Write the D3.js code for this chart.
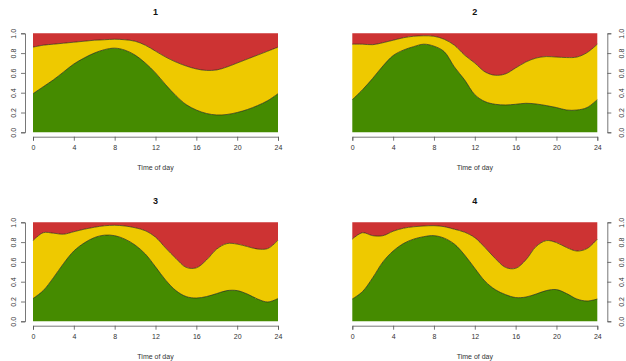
<!DOCTYPE html>
<html>
<head>
<meta charset="utf-8">
<script src="https://cdn.jsdelivr.net/npm/d3@7"></script>
<style>
  body { margin: 0; background: #fff; }
  svg { display: block; font-family: "Liberation Sans", Arial, sans-serif; }
</style>
</head>
<body>
<div id="chart"></div>
<script>
// hours of the day, one value per hour
const hours = d3.range(0, 25);
const xTicks = [0, 4, 8, 12, 16, 20, 24];
const yTicks = [0, 0.2, 0.4, 0.6, 0.8, 1.0];
const titles = ["1", "2", "3", "4"];

// top of the green band (= green share)
const green1 = [0.39,0.46,0.53,0.61,0.69,0.75,0.80,0.835,0.85,0.83,0.78,0.70,0.60,0.48,0.37,0.28,0.225,0.19,0.175,0.18,0.20,0.23,0.27,0.32,0.39];
const green2 = [0.33,0.43,0.545,0.67,0.775,0.83,0.865,0.89,0.87,0.815,0.66,0.53,0.38,0.31,0.283,0.276,0.283,0.293,0.286,0.27,0.25,0.225,0.225,0.25,0.33];
const green3 = [0.23,0.31,0.44,0.585,0.71,0.79,0.845,0.87,0.865,0.83,0.77,0.68,0.55,0.415,0.31,0.25,0.235,0.25,0.28,0.31,0.31,0.275,0.225,0.195,0.23];
const green4 = [0.225,0.30,0.44,0.60,0.71,0.785,0.83,0.855,0.865,0.84,0.78,0.67,0.535,0.405,0.32,0.27,0.24,0.245,0.275,0.31,0.32,0.28,0.225,0.205,0.225];

// top of the yellow band (= green + yellow share), red fills the rest
const yellowTop1 = [0.86,0.88,0.89,0.90,0.91,0.92,0.93,0.935,0.94,0.935,0.92,0.88,0.82,0.76,0.71,0.67,0.64,0.625,0.63,0.66,0.70,0.74,0.78,0.82,0.86];
const yellowTop2 = [0.89,0.89,0.885,0.905,0.93,0.955,0.97,0.975,0.97,0.94,0.88,0.78,0.70,0.61,0.576,0.59,0.65,0.71,0.75,0.765,0.76,0.755,0.76,0.805,0.89];
const yellowTop3 = [0.815,0.895,0.89,0.88,0.905,0.93,0.95,0.965,0.97,0.963,0.945,0.915,0.85,0.74,0.635,0.545,0.54,0.62,0.73,0.785,0.78,0.755,0.73,0.735,0.82];
const yellowTop4 = [0.83,0.895,0.865,0.865,0.91,0.94,0.955,0.963,0.966,0.956,0.93,0.90,0.845,0.745,0.635,0.545,0.535,0.62,0.755,0.815,0.795,0.745,0.71,0.735,0.83];

const greens = [green1, green2, green3, green4];
const yellowTops = [yellowTop1, yellowTop2, yellowTop3, yellowTop4];

const colors = { green: "#458B00", yellow: "#EEC900", red: "#CD3333" };

const svgWidth = 626, svgHeight = 361;
const plotW = 245, plotH = 99;

// panel placement: left edge of plot region, top edge, side of y axis
const panels = [
  { left: 33, top: 33.3, axis: "left" },
  { left: 352.3, top: 33.3, axis: "right" },
  { left: 33, top: 222.3, axis: "left" },
  { left: 352.3, top: 222.3, axis: "right" }
];

const svg = d3.select("#chart").append("svg")
  .attr("width", svgWidth)
  .attr("height", svgHeight);

const x = d3.scaleLinear().domain([0, 24]).range([0, plotW]);
const y = d3.scaleLinear().domain([0, 1]).range([plotH, 0]);
const curve = d3.curveCatmullRom.alpha(0.5);

panels.forEach((p, i) => {
  const g = svg.append("g").attr("transform", `translate(${p.left},${p.top})`);
  const gr = greens[i], yt = yellowTops[i];

  const areaOf = (lo, hi) => d3.area()
    .x(d => x(d))
    .y0(d => y(lo(d)))
    .y1(d => y(hi(d)))
    .curve(curve);

  g.append("path").datum(hours)
    .attr("fill", colors.red)
    .attr("d", areaOf(h => yt[h], () => 1));
  g.append("path").datum(hours)
    .attr("fill", colors.yellow)
    .attr("d", areaOf(h => gr[h], h => yt[h]));
  g.append("path").datum(hours)
    .attr("fill", colors.green)
    .attr("d", areaOf(() => 0, h => gr[h]));

  const line = arr => d3.line().x(d => x(d)).y(d => y(arr[d])).curve(curve);
  [gr, yt].forEach(arr => {
    g.append("path").datum(hours)
      .attr("fill", "none")
      .attr("stroke", "#2a2a10")
      .attr("stroke-opacity", 0.85)
      .attr("stroke-width", 0.8)
      .attr("d", line(arr));
  });

  // x axis
  const gx = g.append("g")
    .attr("transform", `translate(0,${plotH + 4.4})`)
    .call(d3.axisBottom(x).tickValues(xTicks).tickSize(4).tickPadding(4).tickFormat(d3.format("d")));
  styleAxis(gx);

  g.append("text")
    .attr("x", plotW / 2)
    .attr("y", plotH + 38)
    .attr("text-anchor", "middle")
    .attr("font-size", 7)
    .attr("fill", "#333")
    .text("Time of day");

  // y axis
  const yAxis = p.axis === "left" ? d3.axisLeft(y) : d3.axisRight(y);
  const gy = g.append("g")
    .attr("transform", `translate(${p.axis === "left" ? -8 : plotW + 10},0)`)
    .call(yAxis.tickValues(yTicks).tickSize(4).tickFormat(d3.format(".1f")));
  styleAxis(gy);
  gy.selectAll(".tick text")
    .attr("x", null).attr("y", null).attr("dy", null)
    .attr("text-anchor", "middle")
    .attr("dominant-baseline", "middle")
    .attr("transform", `translate(${p.axis === "left" ? -11 : 14.5},0) rotate(-90)`);

  svg.append("text")
    .attr("x", p.left + plotW / 2)
    .attr("y", p.top - 18)
    .attr("text-anchor", "middle")
    .attr("font-size", 9)
    .attr("font-weight", "bold")
    .attr("fill", "#111")
    .text(titles[i]);
});

function styleAxis(sel) {
  sel.select(".domain").attr("stroke", "#555").attr("stroke-width", 0.8);
  sel.selectAll(".tick line").attr("stroke", "#555").attr("stroke-width", 0.8);
  sel.selectAll(".tick text")
    .attr("font-size", 7)
    .attr("font-family", "Liberation Sans, Arial, sans-serif")
    .attr("fill", "#333");
}
</script>
</body>
</html>
